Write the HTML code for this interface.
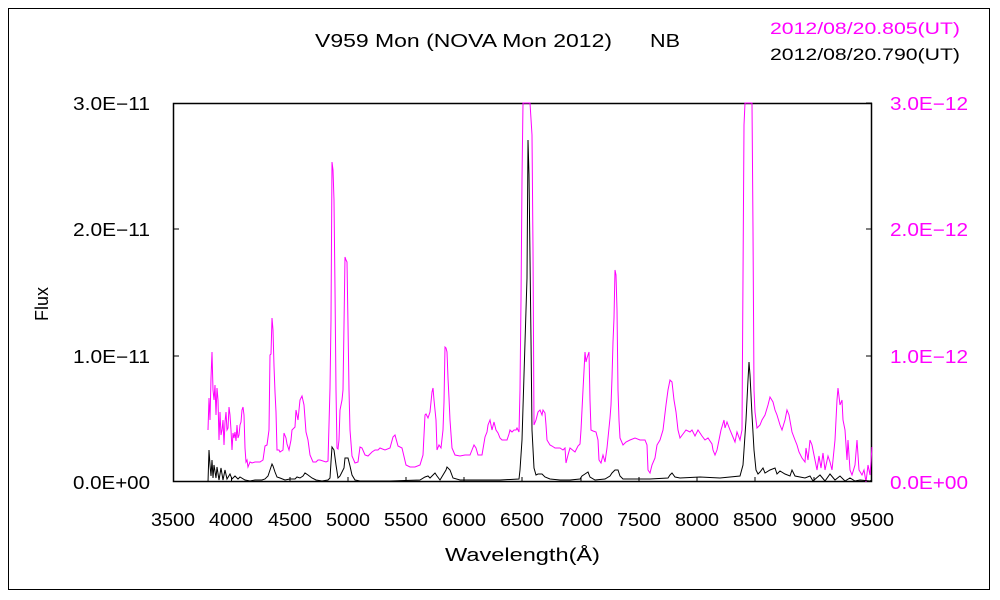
<!DOCTYPE html>
<html><head><meta charset="utf-8"><style>
body{margin:0;background:#fff;}
svg{display:block;font-family:"Liberation Sans","Noto Sans CJK JP",sans-serif;}
</style></head><body>
<svg width="1000" height="600" xmlns="http://www.w3.org/2000/svg">
<rect x="0" y="0" width="1000" height="600" fill="#fff"/>
<rect x="8.5" y="8.5" width="981" height="581" fill="none" stroke="#000" stroke-width="1"/>
<text x="315" y="47" font-size="18" textLength="297" lengthAdjust="spacingAndGlyphs">V959 Mon (NOVA Mon 2012)</text>
<text x="650" y="47" font-size="18" textLength="30" lengthAdjust="spacingAndGlyphs">NB</text>
<text x="770" y="34" font-size="17" fill="#ff00ff" textLength="190" lengthAdjust="spacingAndGlyphs">2012/08/20.805(UT)</text>
<text x="770" y="60" font-size="17" textLength="190" lengthAdjust="spacingAndGlyphs">2012/08/20.790(UT)</text>
<g font-size="18">
<text x="73" y="110" textLength="77" lengthAdjust="spacingAndGlyphs">3.0E−11</text>
<text x="73" y="236" textLength="77" lengthAdjust="spacingAndGlyphs">2.0E−11</text>
<text x="73" y="363" textLength="77" lengthAdjust="spacingAndGlyphs">1.0E−11</text>
<text x="73" y="489" textLength="77" lengthAdjust="spacingAndGlyphs">0.0E+00</text>
</g>
<g font-size="18" fill="#ff00ff">
<text x="890" y="110" textLength="78" lengthAdjust="spacingAndGlyphs">3.0E−12</text>
<text x="890" y="236" textLength="78" lengthAdjust="spacingAndGlyphs">2.0E−12</text>
<text x="890" y="363" textLength="78" lengthAdjust="spacingAndGlyphs">1.0E−12</text>
<text x="890" y="489" textLength="78" lengthAdjust="spacingAndGlyphs">0.0E+00</text>
</g>
<g font-size="18">
<text x="151" y="526" textLength="44" lengthAdjust="spacingAndGlyphs">3500</text><text x="209" y="526" textLength="44" lengthAdjust="spacingAndGlyphs">4000</text><text x="268" y="526" textLength="44" lengthAdjust="spacingAndGlyphs">4500</text>
<text x="326" y="526" textLength="44" lengthAdjust="spacingAndGlyphs">5000</text><text x="384" y="526" textLength="44" lengthAdjust="spacingAndGlyphs">5500</text><text x="442" y="526" textLength="44" lengthAdjust="spacingAndGlyphs">6000</text>
<text x="500" y="526" textLength="44" lengthAdjust="spacingAndGlyphs">6500</text><text x="559" y="526" textLength="44" lengthAdjust="spacingAndGlyphs">7000</text><text x="617" y="526" textLength="44" lengthAdjust="spacingAndGlyphs">7500</text>
<text x="675" y="526" textLength="44" lengthAdjust="spacingAndGlyphs">8000</text><text x="733" y="526" textLength="44" lengthAdjust="spacingAndGlyphs">8500</text><text x="792" y="526" textLength="44" lengthAdjust="spacingAndGlyphs">9000</text>
<text x="850" y="526" textLength="44" lengthAdjust="spacingAndGlyphs">9500</text>
</g>
<text x="445" y="561" font-size="18" textLength="155" lengthAdjust="spacingAndGlyphs">Wavelength(Å)</text>
<text transform="translate(48,304) rotate(-90)" font-size="18" text-anchor="middle">Flux</text>
<rect x="173.5" y="103.5" width="698" height="378" fill="none" stroke="#000" stroke-width="1.5"/>
<g stroke="#000" stroke-width="1">
<path d="M173 229h6M173 356h6M866 229h6M866 356h6M866 103h6"/>
<path d="M231.5 482v-5M290 482v-5M348 482v-5M406 482v-5M464 482v-5M522 482v-5M581 482v-5M639 482v-5M697 482v-5M755 482v-5M814 482v-5"/>
</g>
<polyline fill="none" stroke="#ff00ff" stroke-width="1" points="208,430 209,398 210,420 211,378 212,352 213,390 214,400 215,385 216,415 217,388 218,400 219,440 220,412 221,435 222,430 223,420 224,445 225,422 226,412 227,430 228,428 229,407 230,415 231,430 232,450 233,433 234,438 235,432 236,441 237,425 238,438 239,435 240,425 241,422 242,410 243,407 244,415 245,448 246,462 247,460 248,467 250,462 252,463 255,462 260,462 263,460 265,446 267,445 269,430 270,355 271,354 272,318 273,330 274,366 275,392 276,412 277,450 279,450 280,452 283,450 284,433 286,438 287,444 289,450 291,440 292,430 295,427 296,410 298,420 300,400 302,396 304,405 306,432 308,440 310,455 313,462 316,462 318,460 320,460 326,462 328,461 330,388 331,320 332,162 333,170 334,200 335,290 336,390 337,448 338,449 339,440 340,410 341,405 342,400 343,390 344,325 345,257 346,260 347,262 348,325 349,390 350,430 352,456 355,463 358,462 360,447 362,448 365,455 368,456 372,452 375,450 378,450 380,448 385,450 390,448 393,437 395,435 398,446 402,448 406,465 410,467 415,467 420,465 423,455 425,415 426,414 428,418 430,412 432,392 433,388 434,400 436,420 437,450 439,445 441,448 443,430 444,402 445,347 446,348 447,352 448,378 449,398 450,420 452,448 455,455 460,456 465,455 470,455 472,450 474,445 476,448 478,455 480,455 482,455 485,437 487,432 488,425 490,420 492,430 494,422 496,430 498,433 500,438 502,440 504,440 507,440 509,434 510,430 512,432 514,430 516,430 517,428 519,432 520,390 521,300 522,180 523,103 530,103 532,135 533,250 534,425 536,420 538,412 540,410 542,415 543,410 545,413 546,425 547,440 550,445 552,446 555,448 560,448 563,450 565,448 566,463 568,455 570,448 575,452 578,446 580,444 581,430 583,390 585,352 586,362 587,358 589,352 590,400 591,430 593,431 596,432 598,440 599,460 601,463 603,455 605,462 607,448 610,418 611,405 612,378 613,342 614,318 615,270 616,275 617,310 618,390 619,420 620,438 623,445 626,442 630,440 635,438 640,440 645,440 647,445 648,470 650,473 652,465 655,458 657,445 660,440 663,430 666,405 668,390 670,380 672,382 674,400 676,412 678,430 680,438 683,434 686,430 690,432 692,430 695,436 698,430 702,436 705,440 708,438 712,444 713,450 715,455 717,450 719,440 721,430 724,420 725,428 727,422 730,430 735,442 737,432 740,440 742,430 744,125 745,103 752,103 753,230 754,390 755,412 757,428 760,425 762,420 765,415 768,405 770,397 773,402 775,410 777,415 780,425 782,430 785,420 787,410 789,415 792,432 795,440 797,445 799,452 802,458 805,462 806,448 808,460 810,440 812,445 815,460 817,470 819,456 821,468 823,453 825,470 828,456 830,462 832,470 835,440 837,400 838,388 840,405 842,400 843,420 845,430 847,460 848,440 850,470 852,475 855,465 857,440 859,470 862,475 864,470 866,482 868,465 870,475 872,447"/>
<polyline fill="none" stroke="#000" stroke-width="1" points="208,482 209,450 210,465 211,476 212,460 213,478 214,465 216,478 217,467 219,480 221,468 223,480 225,470 227,479 230,474 232,479 235,476 238,479 240,477 245,480 250,481 255,480 262,480 265,479 268,476 270,470 272,464 273,466 275,472 277,477 280,478 285,480 290,479 295,479 297,477 300,478 303,476 305,473 308,475 312,478 316,480 322,481 328,480 330,478 331,462 332,447 334,450 336,465 338,478 340,476 342,472 344,468 345,458 348,458 350,466 352,475 355,480 360,481 390,481 420,480 425,477 428,476 430,478 433,475 435,473 437,476 440,480 446,470 447,467 450,470 453,478 460,480 480,480 500,480 519,479 520,470 522,440 526,310 527,278 528,140 529,175 531,340 532,430 534,468 536,475 538,474 542,474 545,477 550,479 560,480 570,480 580,479 582,476 585,474 588,472 590,477 595,480 605,479 610,476 612,473 615,470 618,470 620,476 623,479 630,479 650,479 668,478 670,475 672,473 675,477 680,478 700,477 720,478 740,476 743,465 746,420 748,380 749,362 750,375 752,415 754,450 756,470 758,474 760,472 763,468 765,473 770,470 775,468 777,474 780,471 785,474 790,476 792,470 795,476 800,477 805,478 810,476 813,481 820,475 825,481 830,474 835,480 840,476 845,481 850,478 855,481 860,480 870,481 872,480"/>
</svg>
</body></html>
